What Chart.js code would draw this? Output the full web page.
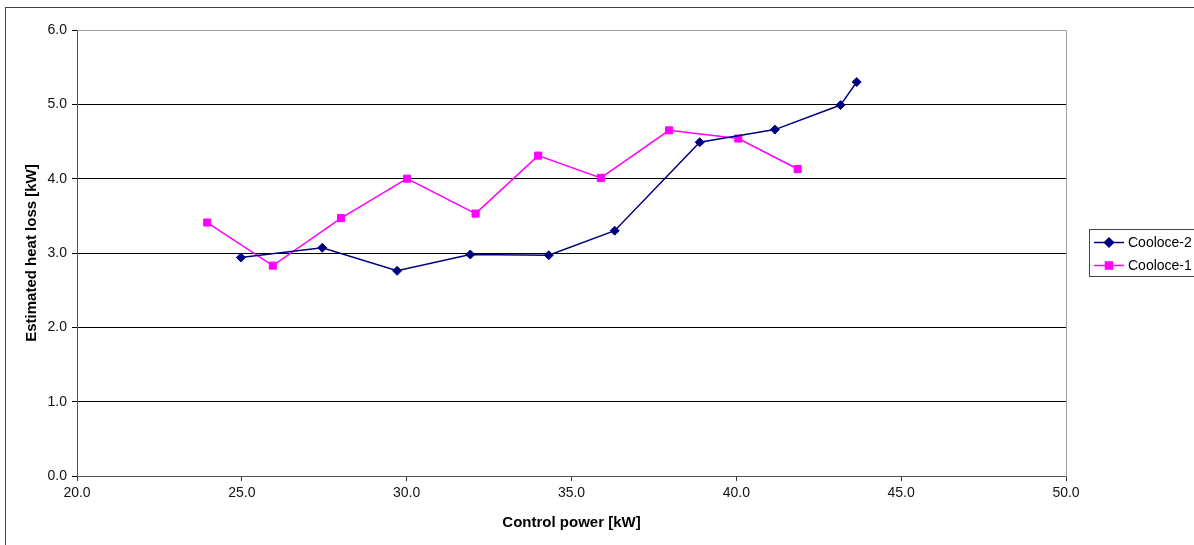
<!DOCTYPE html>
<html>
<head>
<meta charset="utf-8">
<script src="https://cdn.jsdelivr.net/npm/chart.js@4/dist/chart.umd.min.js"></script>
<style>
  html, body { margin: 0; padding: 0; background: #fff; }
  #wrap { width: 1194px; height: 545px; position: relative; }
</style>
</head>
<body>
<div id="wrap"><canvas id="heatChart"></canvas></div>
<script>
// values
const cooloce2Power = [24.97, 27.44, 29.71, 31.93, 34.31, 36.31, 38.89, 41.17, 43.16, 43.65];
const cooloce2Loss  = [2.94, 3.07, 2.76, 2.98, 2.97, 3.30, 4.49, 4.66, 4.99, 5.30];
const cooloce1Power = [23.95, 25.94, 28.01, 30.01, 32.09, 33.99, 35.89, 37.96, 40.06, 41.86];
const cooloce1Loss  = [3.41, 2.83, 3.47, 4.00, 3.53, 4.31, 4.01, 4.65, 4.54, 4.13];
const seriesNames = ['Cooloce-2', 'Cooloce-1'];
const xTickRange = [20, 50, 5];
const yTickRange = [0, 6, 1];

const FONT = '"Liberation Sans", Arial, sans-serif';
const toPoints = (xs, ys) => xs.map((x, i) => ({ x, y: ys[i] }));

// grey plot border (top/right), outer frame and Excel-style legend
const excelLook = {
  id: 'excelLook',
  beforeDatasetsDraw(chart) {
    const { ctx, chartArea: a } = chart;
    ctx.save();
    ctx.strokeStyle = '#a0a0a0';
    ctx.lineWidth = 1;
    ctx.beginPath();
    ctx.moveTo(Math.round(a.left) + 0.5, Math.round(a.top) + 0.5);
    ctx.lineTo(Math.round(a.right) + 0.5, Math.round(a.top) + 0.5);
    ctx.lineTo(Math.round(a.right) + 0.5, Math.round(a.bottom) + 0.5);
    ctx.stroke();
    ctx.restore();
  },
  afterDraw(chart) {
    const { ctx } = chart;
    ctx.save();
    ctx.strokeStyle = '#444';
    ctx.lineWidth = 1;
    ctx.strokeRect(5.5, 7.5, 1300, 700);

    // legend
    ctx.strokeRect(1089.5, 229.5, 200, 47);
    chart.data.datasets.forEach((ds, i) => {
      const y = 242 + i * 23;
      ctx.strokeStyle = ds.borderColor;
      ctx.lineWidth = 1.5;
      ctx.beginPath();
      ctx.moveTo(1094, y + 0.5);
      ctx.lineTo(1124, y + 0.5);
      ctx.stroke();
      ctx.fillStyle = ds.pointBackgroundColor;
      ctx.strokeStyle = ds.pointBorderColor;
      Chart.helpers.drawPoint(ctx, {
        pointStyle: ds.pointStyle, radius: ds.pointRadius, borderWidth: 1, rotation: 0
      }, 1109, y + 0.5);
      ctx.fillStyle = '#000';
      ctx.font = '14px ' + FONT;
      ctx.textBaseline = 'middle';
      ctx.textAlign = 'left';
      ctx.fillText(ds.label, 1128, y + 1);
    });
    ctx.restore();
  }
};

new Chart(document.getElementById('heatChart'), {
  type: 'scatter',
  data: {
    datasets: [
      {
        label: seriesNames[0],
        data: toPoints(cooloce2Power, cooloce2Loss),
        showLine: true,
        borderColor: '#000080',
        borderWidth: 1.5,
        pointStyle: 'rectRot',
        pointRadius: 4.5,
        pointBackgroundColor: '#000080',
        pointBorderColor: '#000080',
        pointBorderWidth: 1
      },
      {
        label: seriesNames[1],
        data: toPoints(cooloce1Power, cooloce1Loss),
        showLine: true,
        borderColor: '#ff00ff',
        borderWidth: 1.5,
        pointStyle: 'rect',
        pointRadius: 5,
        pointBackgroundColor: '#ff00ff',
        pointBorderColor: '#ff00ff',
        pointBorderWidth: 1
      }
    ]
  },
  options: {
    responsive: true,
    maintainAspectRatio: false,
    animation: false,
    layout: { padding: { top: 30, right: 128, left: 0, bottom: 0 } },
    plugins: {
      legend: { display: false },
      tooltip: { enabled: false }
    },
    scales: {
      x: {
        type: 'linear',
        min: xTickRange[0],
        max: xTickRange[1],
        afterFit: s => { s.height = 69; },
        ticks: {
          stepSize: xTickRange[2],
          padding: 4,
          color: '#111',
          font: { family: FONT, size: 14 },
          callback: v => v.toFixed(1)
        },
        grid: { drawOnChartArea: false, drawTicks: true, tickLength: 5, tickColor: '#333' },
        border: { color: '#555', width: 1 },
        title: {
          display: true,
          text: 'Control power [kW]',
          color: '#000',
          font: { family: FONT, size: 15, weight: 'bold' },
          padding: { top: 0, bottom: 13 }
        }
      },
      y: {
        min: yTickRange[0],
        max: yTickRange[1],
        afterFit: s => { s.width = 77; },
        ticks: {
          stepSize: yTickRange[2],
          padding: 5,
          color: '#111',
          font: { family: FONT, size: 14 },
          callback: v => v.toFixed(1)
        },
        grid: {
          color: ctx => (ctx.tick && ctx.tick.value === yTickRange[1]) ? 'rgba(0,0,0,0)' : '#000',
          tickColor: '#000',
          tickLength: 5,
          lineWidth: 1
        },
        border: { color: '#555', width: 1 },
        title: {
          display: true,
          text: 'Estimated heat loss [kW]',
          color: '#000',
          font: { family: FONT, size: 15, weight: 'bold' },
          padding: { top: 23, bottom: 0 }
        }
      }
    }
  },
  plugins: [excelLook]
});
</script>
</body>
</html>
